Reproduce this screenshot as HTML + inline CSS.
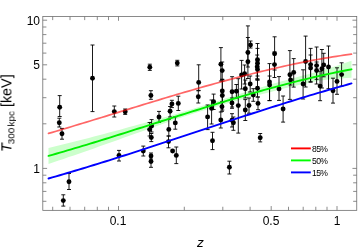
<!DOCTYPE html>
<html><head><meta charset="utf-8"><style>
html,body{margin:0;padding:0;background:#fff}
body{width:361px;height:250px;position:relative;overflow:hidden;font-family:"Liberation Sans",sans-serif;color:#000}
.t{position:absolute;white-space:nowrap;line-height:1;will-change:transform}
.xt{font-size:12px;transform:translateX(-50%);top:215.2px}
.yt{font-size:12px;text-align:right;width:30px;left:10px}
.lg{font-size:8.6px;left:312.2px;letter-spacing:-0.6px}
</style></head><body>
<svg width="361" height="250" viewBox="0 0 361 250" style="position:absolute;left:0;top:0">
<rect x="0" y="0" width="361" height="250" fill="#fff"/>
<polygon points="48.5,147.9 53.5,146.7 58.6,145.5 63.6,144.2 68.7,143.0 73.8,141.7 78.8,140.5 83.8,139.2 88.9,137.9 94.0,136.6 99.0,135.3 104.0,133.9 109.1,132.6 114.2,131.2 119.2,129.9 124.2,128.5 129.3,127.1 134.3,125.7 139.4,124.3 144.4,122.9 149.5,121.4 154.6,120.0 159.6,118.6 164.7,117.2 169.7,115.8 174.8,114.4 179.8,112.8 184.8,111.3 189.9,109.7 194.9,108.2 200.0,106.6 205.1,105.0 210.1,103.4 215.2,101.8 220.2,100.2 225.2,98.6 230.3,97.0 235.3,95.3 240.4,93.7 245.4,92.1 250.5,90.6 255.6,89.0 260.6,87.5 265.6,86.0 270.7,84.5 275.8,83.1 280.8,81.6 285.9,80.2 290.9,78.8 295.9,77.4 301.0,76.1 306.1,74.8 311.1,73.5 316.1,72.1 321.2,70.7 326.2,69.1 331.3,67.5 336.4,65.9 341.4,64.2 346.4,62.5 351.5,60.8 351.5,77.8 346.4,78.1 341.4,78.4 336.4,78.7 331.3,79.2 326.2,79.8 321.2,80.4 316.1,81.3 311.1,82.3 306.1,83.4 301.0,84.5 295.9,85.7 290.9,86.9 285.9,88.1 280.8,89.3 275.8,90.6 270.7,91.9 265.6,93.2 260.6,94.5 255.6,95.8 250.5,97.1 245.4,98.5 240.4,99.8 235.3,101.2 230.3,102.6 225.2,104.0 220.2,105.5 215.2,107.0 210.1,108.5 205.1,109.9 200.0,111.4 194.9,113.1 189.9,114.7 184.8,116.3 179.8,118.0 174.8,119.6 169.7,121.4 164.7,123.2 159.6,125.0 154.6,126.8 149.5,128.7 144.4,130.4 139.4,132.2 134.3,134.0 129.3,135.8 124.2,137.6 119.2,139.4 114.2,141.2 109.1,143.0 104.0,144.8 99.0,146.6 94.0,148.4 88.9,150.2 83.8,151.9 78.8,153.7 73.8,155.4 68.7,157.1 63.6,158.9 58.6,160.5 53.5,162.2 48.5,163.9" fill="#ccffcc"/>
<rect x="42.8" y="16.5" width="313.95" height="193.85" fill="none" stroke="#6e6e6e" stroke-width="0.8"/>
<path d="M52.7,210.35v-3.6M52.7,16.5v3.6M70.0,210.35v-3.6M70.0,16.5v3.6M84.7,210.35v-3.6M84.7,16.5v3.6M97.3,210.35v-3.6M97.3,16.5v3.6M108.5,210.35v-3.6M108.5,16.5v3.6M118.5,210.35v-4.3M118.5,16.5v4.3M184.3,210.35v-3.6M184.3,16.5v3.6M222.8,210.35v-3.6M222.8,16.5v3.6M250.1,210.35v-3.6M250.1,16.5v3.6M271.2,210.35v-4.3M271.2,16.5v4.3M288.5,210.35v-3.6M288.5,16.5v3.6M303.2,210.35v-3.6M303.2,16.5v3.6M315.8,210.35v-3.6M315.8,16.5v3.6M327.0,210.35v-3.6M327.0,16.5v3.6M337.0,210.35v-4.3M337.0,16.5v4.3M42.8,201.3h3.6M356.75,201.3h-3.6M42.8,191.4h3.6M356.75,191.4h-3.6M42.8,182.8h3.6M356.75,182.8h-3.6M42.8,175.2h3.6M356.75,175.2h-3.6M42.8,168.4h4.3M356.75,168.4h-4.3M42.8,123.8h3.6M356.75,123.8h-3.6M42.8,97.7h3.6M356.75,97.7h-3.6M42.8,79.2h3.6M356.75,79.2h-3.6M42.8,64.8h4.3M356.75,64.8h-4.3M42.8,53.1h3.6M356.75,53.1h-3.6M42.8,43.2h3.6M356.75,43.2h-3.6M42.8,34.6h3.6M356.75,34.6h-3.6M42.8,27.0h3.6M356.75,27.0h-3.6M42.8,20.2h4.3M356.75,20.2h-4.3" stroke="#6e6e6e" stroke-width="0.8" fill="none"/>
<path d="M92.5,45.0V111.6M90.5,45.0h4M90.5,111.6h4M59.7,95.6V116.5M57.7,95.6h4M57.7,116.5h4M114.3,106.0V117.0M112.3,106.0h4M112.3,117.0h4M59.3,118.2V127.0M57.3,118.2h4M57.3,127.0h4M62.0,128.4V139.2M60.0,128.4h4M60.0,139.2h4M69.0,173.5V189.5M67.0,173.5h4M67.0,189.5h4M63.3,194.8V206.1M61.3,194.8h4M61.3,206.1h4M149.8,64.2V70.4M147.8,64.2h4M147.8,70.4h4M177.3,60.3V65.9M175.3,60.3h4M175.3,65.9h4M125.2,109.0V114.4M123.2,109.0h4M123.2,114.4h4M150.9,90.7V99.3M148.9,90.7h4M148.9,99.3h4M178.3,96.2V110.5M176.3,96.2h4M176.3,110.5h4M171.9,100.3V107.6M169.9,100.3h4M169.9,107.6h4M170.1,106.5V117.0M168.1,106.5h4M168.1,117.0h4M159.0,111.4V122.5M157.0,111.4h4M157.0,122.5h4M175.3,116.8V129.2M173.3,116.8h4M173.3,129.2h4M168.8,119.3V136.0M166.8,119.3h4M166.8,136.0h4M151.6,119.6V132.0M149.6,119.6h4M149.6,132.0h4M149.6,122.5V136.0M147.6,122.5h4M147.6,136.0h4M119.0,150.4V161.0M117.0,150.4h4M117.0,161.0h4M143.3,146.1V156.0M141.3,146.1h4M141.3,156.0h4M151.3,133.5V141.6M149.3,133.5h4M149.3,141.6h4M151.0,153.0V159.0M149.0,153.0h4M149.0,159.0h4M151.0,156.0V167.3M149.0,156.0h4M149.0,167.3h4M168.5,136.0V147.8M166.5,136.0h4M166.5,147.8h4M176.3,147.0V163.6M174.3,147.0h4M174.3,163.6h4M198.7,64.8V90.4M196.7,64.8h4M196.7,90.4h4M198.3,90.8V103.0M196.3,90.8h4M196.3,103.0h4M220.9,47.6V81.0M218.9,47.6h4M218.9,81.0h4M222.2,62.0V79.2M220.2,62.0h4M220.2,79.2h4M222.3,79.5V102.0M220.3,79.5h4M220.3,102.0h4M222.3,81.0V110.0M220.3,81.0h4M220.3,110.0h4M222.0,102.0V111.3M220.0,102.0h4M220.0,111.3h4M220.8,112.0V128.0M218.8,112.0h4M218.8,128.0h4M213.6,94.1V109.5M211.6,94.1h4M211.6,109.5h4M211.6,100.0V124.0M209.6,100.0h4M209.6,124.0h4M207.6,105.0V129.6M205.6,105.0h4M205.6,129.6h4M212.5,132.3V149.6M210.5,132.3h4M210.5,149.6h4M229.4,161.2V174.0M227.4,161.2h4M227.4,174.0h4M232.1,76.7V107.0M230.1,76.7h4M230.1,107.0h4M232.0,98.0V108.3M230.0,98.0h4M230.0,108.3h4M232.0,113.7V127.0M230.0,113.7h4M230.0,127.0h4M233.4,117.0V130.3M231.4,117.0h4M231.4,130.3h4M236.4,84.5V98.0M234.4,84.5h4M234.4,98.0h4M238.3,78.7V133.1M236.3,78.7h4M236.3,133.1h4M241.6,60.4V89.0M239.6,60.4h4M239.6,89.0h4M244.6,65.0V84.0M242.6,65.0h4M242.6,84.0h4M245.3,80.0V98.0M243.3,80.0h4M243.3,98.0h4M245.3,99.6V120.5M243.3,99.6h4M243.3,120.5h4M247.9,37.5V67.0M245.9,37.5h4M245.9,67.0h4M247.9,25.9V78.5M245.9,25.9h4M245.9,78.5h4M250.5,41.0V48.0M248.5,41.0h4M248.5,48.0h4M250.2,76.0V92.0M248.2,76.0h4M248.2,92.0h4M249.0,98.0V113.2M247.0,98.0h4M247.0,113.2h4M253.3,88.7V101.3M251.3,88.7h4M251.3,101.3h4M257.5,43.5V76.0M255.5,43.5h4M255.5,76.0h4M257.5,48.4V79.0M255.5,48.4h4M255.5,79.0h4M257.2,55.0V79.0M255.2,55.0h4M255.2,79.0h4M257.5,60.0V80.0M255.5,60.0h4M255.5,80.0h4M257.5,80.0V97.0M255.5,80.0h4M255.5,97.0h4M258.0,97.0V109.7M256.0,97.0h4M256.0,109.7h4M260.2,133.5V141.9M258.2,133.5h4M258.2,141.9h4M269.5,63.6V100.6M267.5,63.6h4M267.5,100.6h4M269.6,76.0V100.6M267.6,76.0h4M267.6,100.6h4M274.6,36.8V70.0M272.6,36.8h4M272.6,70.0h4M274.5,52.0V77.5M272.5,52.0h4M272.5,77.5h4M279.0,76.6V100.4M277.0,76.6h4M277.0,100.4h4M283.1,96.0V122.1M281.1,96.0h4M281.1,122.1h4M289.9,50.6V99.4M287.9,50.6h4M287.9,99.4h4M293.7,58.6V87.1M291.7,58.6h4M291.7,87.1h4M290.6,75.0V85.0M288.6,75.0h4M288.6,85.0h4M303.1,69.8V99.0M301.1,69.8h4M301.1,99.0h4M305.6,36.1V87.0M303.6,36.1h4M303.6,87.0h4M310.6,48.4V82.2M308.6,48.4h4M308.6,82.2h4M310.6,55.0V81.7M308.6,55.0h4M308.6,81.7h4M316.6,47.0V84.0M314.6,47.0h4M314.6,84.0h4M316.6,62.0V79.3M314.6,62.0h4M314.6,79.3h4M321.9,49.5V88.0M319.9,49.5h4M319.9,88.0h4M323.7,53.3V76.8M321.7,53.3h4M321.7,76.8h4M328.5,46.0V88.7M326.5,46.0h4M326.5,88.7h4M320.1,71.2V100.7M318.1,71.2h4M318.1,100.7h4M333.0,78.2V103.1M331.0,78.2h4M331.0,103.1h4M337.0,67.8V94.3M335.0,67.8h4M335.0,94.3h4M341.6,62.8V86.1M339.6,62.8h4M339.6,86.1h4" stroke="#000" stroke-width="0.9" fill="none"/>
<g fill="#000"><circle cx="92.5" cy="78.3" r="2.45"/><circle cx="59.7" cy="107.2" r="2.45"/><circle cx="114.3" cy="111.6" r="2.45"/><circle cx="59.3" cy="122.8" r="2.45"/><circle cx="62.0" cy="133.7" r="2.45"/><circle cx="69.0" cy="181.8" r="2.45"/><circle cx="63.3" cy="200.6" r="2.45"/><circle cx="149.8" cy="67.3" r="2.45"/><circle cx="177.3" cy="63.1" r="2.45"/><circle cx="125.2" cy="111.7" r="2.45"/><circle cx="150.9" cy="95.5" r="2.45"/><circle cx="178.3" cy="103.4" r="2.45"/><circle cx="171.9" cy="104.0" r="2.45"/><circle cx="170.1" cy="111.2" r="2.45"/><circle cx="159.0" cy="117.0" r="2.45"/><circle cx="175.3" cy="122.9" r="2.45"/><circle cx="168.8" cy="129.4" r="2.45"/><circle cx="151.6" cy="126.0" r="2.45"/><circle cx="149.6" cy="129.6" r="2.45"/><circle cx="119.0" cy="155.5" r="2.45"/><circle cx="143.3" cy="151.0" r="2.45"/><circle cx="151.3" cy="137.5" r="2.45"/><circle cx="151.0" cy="156.0" r="2.45"/><circle cx="151.0" cy="161.5" r="2.45"/><circle cx="168.5" cy="141.6" r="2.45"/><circle cx="172.6" cy="151.0" r="2.45"/><circle cx="176.3" cy="155.4" r="2.45"/><circle cx="198.7" cy="82.4" r="2.45"/><circle cx="198.3" cy="96.8" r="2.45"/><circle cx="220.9" cy="64.2" r="2.45"/><circle cx="222.2" cy="70.6" r="2.45"/><circle cx="222.3" cy="91.0" r="2.45"/><circle cx="222.3" cy="95.5" r="2.45"/><circle cx="222.0" cy="106.8" r="2.45"/><circle cx="220.8" cy="120.0" r="2.45"/><circle cx="213.6" cy="101.8" r="2.45"/><circle cx="211.6" cy="108.4" r="2.45"/><circle cx="207.6" cy="116.9" r="2.45"/><circle cx="212.5" cy="140.8" r="2.45"/><circle cx="229.4" cy="167.3" r="2.45"/><circle cx="232.1" cy="91.8" r="2.45"/><circle cx="232.0" cy="103.0" r="2.45"/><circle cx="232.0" cy="120.2" r="2.45"/><circle cx="233.4" cy="122.8" r="2.45"/><circle cx="236.4" cy="91.2" r="2.45"/><circle cx="238.3" cy="105.6" r="2.45"/><circle cx="241.6" cy="75.0" r="2.45"/><circle cx="244.6" cy="73.8" r="2.45"/><circle cx="245.3" cy="88.8" r="2.45"/><circle cx="245.3" cy="110.0" r="2.45"/><circle cx="247.9" cy="52.5" r="2.45"/><circle cx="247.9" cy="61.8" r="2.45"/><circle cx="250.5" cy="44.9" r="2.45"/><circle cx="250.2" cy="84.0" r="2.45"/><circle cx="249.0" cy="105.5" r="2.45"/><circle cx="253.3" cy="95.0" r="2.45"/><circle cx="257.5" cy="59.7" r="2.45"/><circle cx="257.5" cy="63.2" r="2.45"/><circle cx="257.2" cy="66.7" r="2.45"/><circle cx="257.5" cy="69.5" r="2.45"/><circle cx="257.5" cy="88.2" r="2.45"/><circle cx="258.0" cy="103.4" r="2.45"/><circle cx="260.2" cy="137.7" r="2.45"/><circle cx="269.5" cy="82.0" r="2.45"/><circle cx="269.6" cy="85.0" r="2.45"/><circle cx="274.6" cy="53.7" r="2.45"/><circle cx="274.5" cy="64.6" r="2.45"/><circle cx="279.0" cy="88.9" r="2.45"/><circle cx="283.1" cy="109.0" r="2.45"/><circle cx="289.9" cy="74.8" r="2.45"/><circle cx="293.7" cy="72.4" r="2.45"/><circle cx="290.6" cy="80.0" r="2.45"/><circle cx="303.1" cy="84.0" r="2.45"/><circle cx="305.6" cy="61.5" r="2.45"/><circle cx="310.6" cy="64.6" r="2.45"/><circle cx="310.6" cy="68.1" r="2.45"/><circle cx="316.6" cy="65.6" r="2.45"/><circle cx="316.6" cy="70.5" r="2.45"/><circle cx="321.9" cy="68.7" r="2.45"/><circle cx="323.7" cy="64.9" r="2.45"/><circle cx="328.5" cy="67.0" r="2.45"/><circle cx="320.1" cy="86.1" r="2.45"/><circle cx="333.0" cy="90.8" r="2.45"/><circle cx="337.0" cy="81.4" r="2.45"/><circle cx="341.6" cy="74.6" r="2.45"/></g>
<polyline points="48.50,133.44 52.29,132.33 56.08,131.21 59.86,130.09 63.65,128.97 67.44,127.83 71.22,126.70 75.01,125.56 78.80,124.41 82.59,123.26 86.38,122.11 90.16,120.96 93.95,119.80 97.74,118.64 101.53,117.48 105.31,116.32 109.10,115.15 112.89,113.99 116.67,112.82 120.46,111.66 124.25,110.49 128.04,109.33 131.82,108.17 135.61,107.00 139.40,105.84 143.19,104.68 146.97,103.53 150.76,102.37 154.55,101.22 158.34,100.08 162.12,98.93 165.91,97.79 169.70,96.66 173.49,95.53 177.28,94.40 181.06,93.28 184.85,92.17 188.64,91.06 192.43,89.96 196.21,88.86 200.00,87.77 203.79,86.69 207.57,85.62 211.36,84.56 215.15,83.50 218.94,82.46 222.72,81.42 226.51,80.39 230.30,79.37 234.09,78.37 237.88,77.37 241.66,76.38 245.45,75.41 249.24,74.45 253.03,73.50 256.81,72.56 260.60,71.63 264.39,70.72 268.18,69.82 271.96,68.94 275.75,68.07 279.54,67.21 283.32,66.37 287.11,65.54 290.90,64.73 294.69,63.94 298.48,63.16 302.26,62.39 306.05,61.65 309.84,60.92 313.62,60.21 317.41,59.52 321.20,58.85 324.99,58.19 328.77,57.55 332.56,56.94 336.35,56.34 340.14,55.76 343.93,55.21 347.71,54.67 351.50,54.16" fill="none" stroke="#ff0000" stroke-width="1.7" stroke-opacity="0.6" stroke-linecap="round" stroke-linejoin="round"/>
<polyline points="48.50,155.87 52.29,154.80 56.08,153.72 59.86,152.64 63.65,151.54 67.44,150.44 71.22,149.33 75.01,148.20 78.80,147.07 82.59,145.94 86.38,144.79 90.16,143.64 93.95,142.49 97.74,141.33 101.53,140.16 105.31,138.98 109.10,137.81 112.89,136.62 116.67,135.44 120.46,134.25 124.25,133.05 128.04,131.86 131.82,130.66 135.61,129.46 139.40,128.25 143.19,127.05 146.97,125.84 150.76,124.64 154.55,123.43 158.34,122.22 162.12,121.02 165.91,119.81 169.70,118.60 173.49,117.40 177.28,116.20 181.06,115.00 184.85,113.80 188.64,112.61 192.43,111.42 196.21,110.23 200.00,109.05 203.79,107.87 207.57,106.70 211.36,105.53 215.15,104.37 218.94,103.21 222.72,102.06 226.51,100.91 230.30,99.78 234.09,98.65 237.88,97.52 241.66,96.41 245.45,95.31 249.24,94.21 253.03,93.12 256.81,92.04 260.60,90.98 264.39,89.92 268.18,88.87 271.96,87.84 275.75,86.81 279.54,85.80 283.32,84.80 287.11,83.81 290.90,82.84 294.69,81.88 298.48,80.93 302.26,80.00 306.05,79.08 309.84,78.17 313.62,77.28 317.41,76.41 321.20,75.55 324.99,74.71 328.77,73.89 332.56,73.08 336.35,72.29 340.14,71.52 343.93,70.76 347.71,70.02 351.50,69.31" fill="none" stroke="#00ee00" stroke-width="1.9" stroke-opacity="1" stroke-linecap="round" stroke-linejoin="round"/>
<polyline points="48.50,178.47 52.29,177.40 56.08,176.31 59.86,175.22 63.65,174.12 67.44,173.01 71.22,171.89 75.01,170.76 78.80,169.63 82.59,168.49 86.38,167.34 90.16,166.18 93.95,165.02 97.74,163.85 101.53,162.67 105.31,161.49 109.10,160.30 112.89,159.11 116.67,157.91 120.46,156.70 124.25,155.49 128.04,154.28 131.82,153.06 135.61,151.84 139.40,150.61 143.19,149.38 146.97,148.15 150.76,146.92 154.55,145.68 158.34,144.43 162.12,143.19 165.91,141.94 169.70,140.70 173.49,139.45 177.28,138.20 181.06,136.94 184.85,135.69 188.64,134.44 192.43,133.18 196.21,131.93 200.00,130.68 203.79,129.42 207.57,128.17 211.36,126.92 215.15,125.67 218.94,124.42 222.72,123.17 226.51,121.92 230.30,120.68 234.09,119.43 237.88,118.19 241.66,116.96 245.45,115.72 249.24,114.49 253.03,113.27 256.81,112.04 260.60,110.83 264.39,109.61 268.18,108.40 271.96,107.20 275.75,106.00 279.54,104.80 283.32,103.61 287.11,102.43 290.90,101.25 294.69,100.08 298.48,98.92 302.26,97.76 306.05,96.61 309.84,95.46 313.62,94.33 317.41,93.20 321.20,92.08 324.99,90.97 328.77,89.87 332.56,88.77 336.35,87.68 340.14,86.61 343.93,85.54 347.71,84.48 351.50,83.44" fill="none" stroke="#0000ff" stroke-width="1.9" stroke-opacity="1" stroke-linecap="round" stroke-linejoin="round"/>
<line x1="291" y1="148.4" x2="310.8" y2="148.4" stroke="#ff0000" stroke-width="1.9"/>
<line x1="291" y1="160.4" x2="310.8" y2="160.4" stroke="#00ff00" stroke-width="1.9"/>
<line x1="291" y1="172.4" x2="310.8" y2="172.4" stroke="#0000ff" stroke-width="1.9"/>
</svg>
<div class="t xt" style="left:117.5px">0.1</div>
<div class="t xt" style="left:271.2px">0.5</div>
<div class="t xt" style="left:336.8px">1</div>
<div class="t yt" style="top:14.8px">10</div>
<div class="t yt" style="top:59.4px">5</div>
<div class="t yt" style="top:163px">1</div>
<div class="t" style="left:196.7px;top:235.5px;font-size:13.6px;font-style:italic">z</div>
<div class="t" id="yl" style="left:0;top:0;font-size:14.4px;transform-origin:0 0;transform:translate(-0.6px,152px) rotate(-90deg)"><i>T</i><span style="font-size:9.9px;position:relative;top:3.2px;margin-left:-1px">300 <span style="margin-left:-1.5px">kpc</span></span> [keV]</div>
<div class="t lg" style="top:145.1px">85%</div>
<div class="t lg" style="top:157.1px">50%</div>
<div class="t lg" style="top:169.1px">15%</div>
</body></html>
